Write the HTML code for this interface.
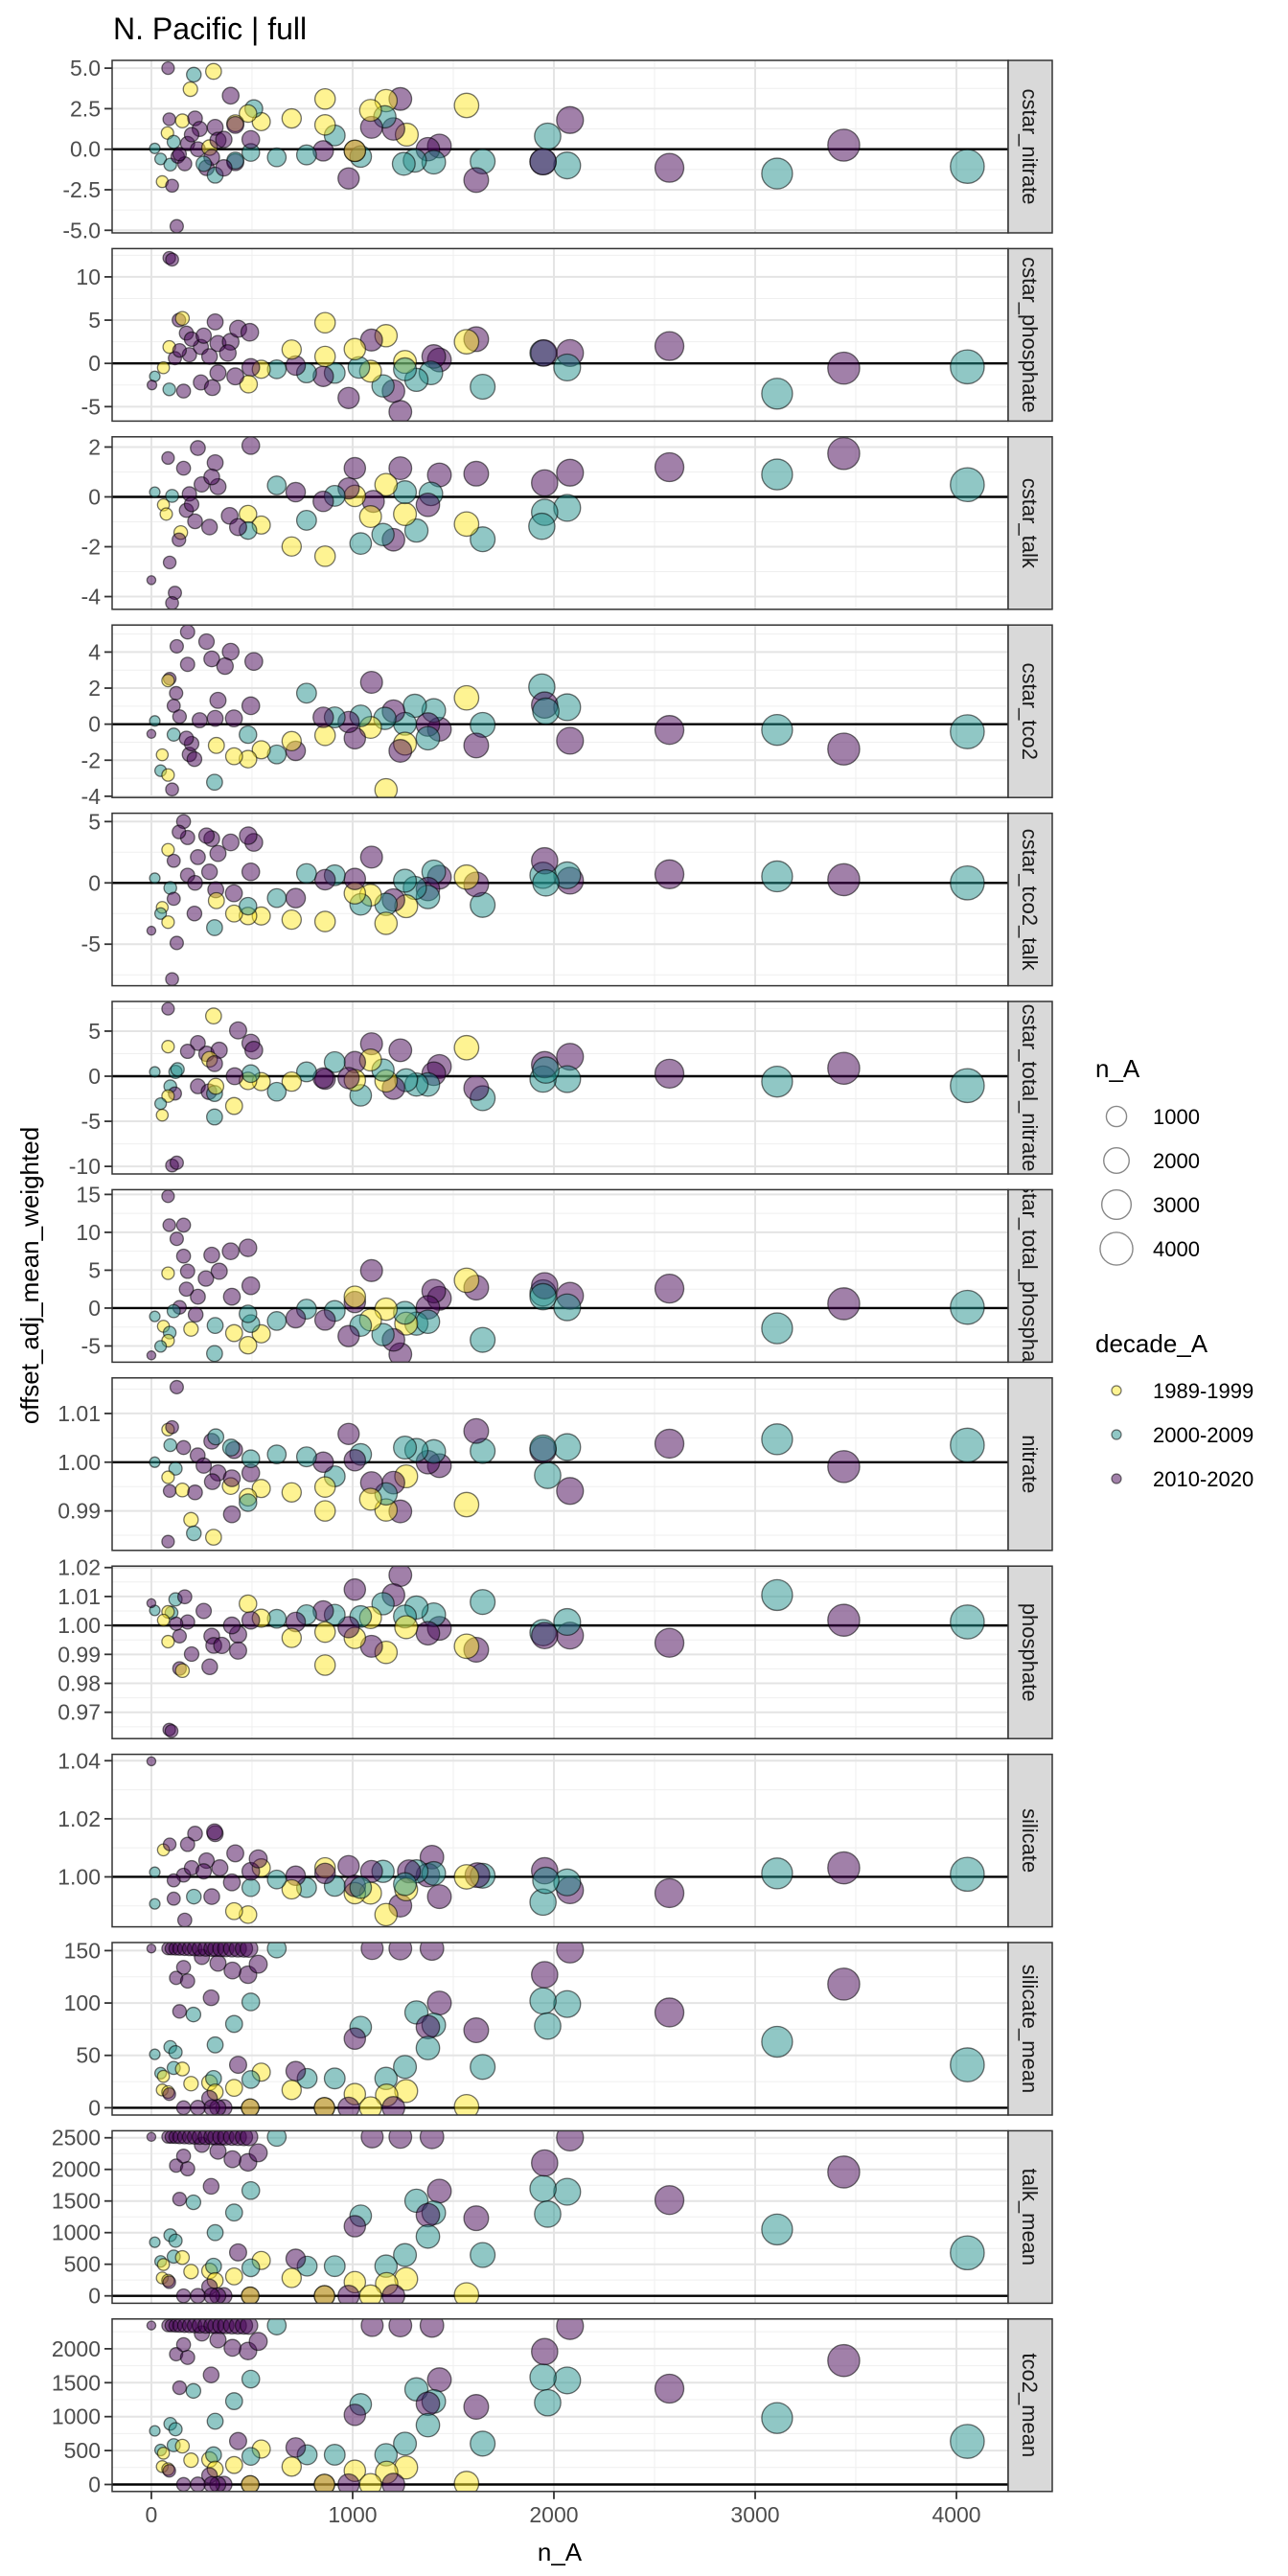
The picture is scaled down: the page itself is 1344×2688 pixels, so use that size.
<!DOCTYPE html>
<html><head><meta charset="utf-8"><title>N. Pacific | full</title>
<style>
html,body{margin:0;padding:0;background:#fff;}
svg{display:block;font-family:"Liberation Sans",Arial,sans-serif;}
</style></head>
<body>
<svg id="chart" xmlns="http://www.w3.org/2000/svg" width="1344" height="2688" viewBox="0 0 1344 2688">
<rect x="0" y="0" width="1344" height="2688" fill="#fff"/>
<text x="118" y="41" font-size="32" fill="#000">N. Pacific | full</text>
<text transform="translate(40,1331) rotate(-90)" text-anchor="middle" font-size="26" fill="#000">offset_adj_mean_weighted</text>
<text x="584" y="2672" text-anchor="middle" font-size="26" fill="#000">n_A</text>
<g id="panels"></g>
<g id="legend">
<text x="1143" y="1124" font-size="26" fill="#000">n_A</text>
<text x="1143" y="1411" font-size="26" fill="#000">decade_A</text>
</g>
</svg>
<script>
// ---- data: [n_A, offset, decade index(0=1989-1999,1=2000-2009,2=2010-2020)] ----
const xTicks = [0, 1000, 2000, 3000, 4000];
const xTickLabels = ["0", "1000", "2000", "3000", "4000"];
const decades = ["1989-1999", "2000-2009", "2010-2020"];
const sizeBreaks = [1000, 2000, 3000, 4000];

const cstarNitrate = [[4054,-1.06,1],[3440,0.25,2],[3109,-1.5,1],[2574,-1.15,2],[2080,1.8,2],[2066,-1.0,1],[1969,0.8,1],[1946,-0.77,1],[1946,-0.77,2],[1646,-0.75,1],[1614,-1.9,2],[1566,2.7,0],[1431,0.2,2],[1374,0,2],[1403,-0.8,1],[1309,-0.7,1],[1254,-0.9,1],[1237,3.1,2],[1166,3.0,0],[1269,0.9,0],[1203,1.25,2],[1160,2.0,1],[1094,1.35,2],[1089,2.4,0],[1040,-0.45,1],[1011,-0.1,2],[1011,-0.1,0],[980,-1.8,2],[911,0.85,1],[863,3.1,0],[863,1.5,0],[854,-0.1,2],[771,-0.35,1],[697,1.9,0],[623,-0.5,1],[494,-0.2,1],[494,0.6,2],[546,1.7,0],[509,2.5,1],[480,2.2,0],[417,1.6,0],[417,1.5,2],[394,3.3,2],[417,-0.8,2],[417,-0.7,1],[83,5.0,2],[211,4.6,1],[309,4.8,0],[194,3.7,0],[89,1.85,2],[154,1.75,0],[217,1.9,2],[240,1.25,2],[317,1.35,2],[80,1.0,0],[111,0.45,1],[180,0.35,2],[231,0,2],[289,0.1,0],[331,0.55,2],[17,0.05,1],[46,-0.6,1],[94,-0.95,1],[131,-0.45,2],[166,-0.9,2],[274,-1.15,2],[317,-1.6,1],[360,-1.15,2],[54,-2.0,0],[103,-2.25,2],[126,-4.75,2],[300,-0.5,2],[260,-0.9,1],[360,0.6,2],[200,0.9,2],[140,-0.3,2]];

const cstarPhosphate = [[4054,-0.4,1],[3440,-0.55,2],[3109,-3.5,1],[2574,2.0,2],[2080,1.2,2],[2066,-0.47,1],[1946,1.2,1],[1950,1.2,2],[1646,-2.7,1],[1614,2.8,2],[1566,2.5,0],[1431,0.4,2],[1403,0.8,2],[1389,-1.1,1],[1317,-1.9,1],[1260,0.17,0],[1260,-0.68,1],[1237,-5.6,2],[1203,-3.2,2],[1166,3.2,0],[1151,-2.6,1],[1094,2.7,2],[1089,-0.9,0],[1031,-0.47,1],[1011,1.65,0],[980,-4.0,2],[911,-1.1,1],[863,4.7,0],[863,0.8,0],[854,-1.5,2],[771,-1.1,1],[717,-0.25,2],[697,1.6,0],[623,-0.68,1],[546,-0.68,0],[494,-0.47,2],[483,-2.4,0],[89,12.2,2],[103,12.0,2],[137,5.0,2],[154,5.2,0],[317,4.8,2],[331,2.3,2],[394,2.5,2],[431,4.0,2],[489,3.6,2],[174,3.5,2],[189,1.0,2],[246,1.9,2],[289,0.8,2],[117,0.6,2],[89,1.9,0],[60,-0.5,0],[17,-1.5,1],[3,-2.5,2],[89,-3.0,1],[160,-3.2,2],[246,-2.2,2],[303,-2.8,2],[417,-1.5,2],[331,-1.1,2],[200,2.8,2],[260,3.2,2],[380,1.2,2],[140,1.5,2]];

const cstarTalk = [[4054,0.49,1],[3440,1.74,2],[3109,0.9,1],[2574,1.19,2],[2080,0.97,2],[2066,-0.44,1],[1954,0.56,2],[1954,-0.62,1],[1940,-1.18,1],[1646,-1.7,1],[1614,0.93,2],[1566,-1.09,0],[1431,0.88,2],[1389,0.12,1],[1374,-0.32,2],[1317,-1.35,1],[1260,-0.69,0],[1260,0.19,1],[1237,1.15,2],[1203,-1.72,2],[1166,0.49,0],[1151,-1.51,1],[1103,-0.18,2],[1089,-0.79,0],[1040,-1.87,1],[1011,1.15,2],[1011,0.04,0],[980,0.34,2],[911,0.04,1],[863,-2.38,0],[854,-0.18,2],[771,-0.94,1],[717,0.19,2],[697,-1.99,0],[623,0.46,1],[546,-1.13,0],[494,2.06,2],[480,-0.69,0],[480,-1.35,1],[231,1.96,2],[83,1.56,2],[317,1.37,2],[160,1.15,2],[331,0.41,2],[189,0.12,2],[17,0.19,1],[103,0.04,1],[60,-0.32,0],[74,-0.69,0],[174,-0.54,2],[217,-0.98,2],[289,-1.21,2],[146,-1.43,0],[137,-1.72,2],[91,-2.63,2],[0,-3.34,2],[117,-3.85,2],[103,-4.26,2],[389,-0.76,2],[431,-1.21,2],[250,0.5,2],[300,0.8,2],[200,-0.3,2]];

const cstarTco2 = [[4054,-0.42,1],[3440,-1.38,2],[3109,-0.32,1],[2574,-0.32,2],[2080,-0.92,2],[2066,0.94,1],[1940,2.06,1],[1954,1.06,2],[1960,0.72,1],[1646,-0.04,1],[1614,-1.18,2],[1566,1.46,0],[1431,-0.28,2],[1403,0.76,1],[1374,-0.02,2],[1374,-0.78,1],[1309,1.02,1],[1260,0.02,1],[1260,-1.08,0],[1237,-1.48,2],[1203,0.72,2],[1160,0.32,1],[1089,-0.18,0],[1094,2.32,2],[1166,-3.64,0],[1040,0.46,1],[1011,-0.78,2],[980,0.12,2],[911,0.38,1],[863,-0.62,0],[854,0.38,2],[717,-1.48,2],[697,-0.94,0],[623,-1.68,1],[771,1.72,1],[546,-1.42,0],[480,-1.94,0],[411,-1.78,0],[480,-0.58,1],[509,3.48,2],[494,1.02,2],[331,1.32,2],[317,0.32,2],[274,4.58,2],[300,3.62,2],[394,4.02,2],[366,3.22,2],[180,3.32,2],[126,4.32,2],[180,5.12,2],[91,2.52,2],[83,2.42,0],[123,1.72,2],[111,1.02,2],[17,0.18,1],[0,-0.54,2],[111,-0.58,1],[140,0.42,2],[54,-1.7,0],[189,-1.68,2],[214,-1.94,2],[46,-2.58,1],[83,-2.82,0],[103,-3.62,2],[314,-3.22,1],[240,0.22,2],[410,0.32,2],[323,-1.18,0],[200,-1.08,2],[174,-0.78,2]];

const cstarTco2Talk = [[4054,0,1],[3440,0.26,2],[3109,0.53,1],[2574,0.7,2],[2080,0.18,2],[2066,0.62,1],[1946,0.62,1],[1954,1.8,2],[1960,0,1],[1646,-1.8,1],[1614,-0.12,2],[1566,0.47,0],[1431,0.47,2],[1403,0.9,1],[1374,-0.5,2],[1374,-1.15,1],[1309,-0.41,1],[1260,0.18,1],[1266,-1.9,0],[1203,-1.4,2],[1166,-1.75,1],[1094,2.1,2],[1089,-1.0,0],[1040,-1.75,1],[1011,-0.85,0],[1011,0.32,2],[1166,-3.3,0],[911,0.62,1],[863,0.26,2],[863,-3.15,0],[771,0.76,1],[717,-1.24,2],[697,-3.0,0],[623,-1.24,1],[546,-2.7,0],[480,-2.7,0],[411,-2.5,0],[480,-1.9,1],[494,0.9,2],[509,3.3,2],[481,3.85,2],[300,3.6,2],[274,3.85,2],[331,2.4,2],[394,3.3,2],[180,3.7,2],[160,5.0,2],[137,4.15,2],[83,2.7,0],[111,1.8,2],[231,2.1,2],[289,0.9,2],[180,0.62,2],[217,0,2],[17,0.38,1],[94,-0.41,1],[111,-1.3,2],[54,-2.0,0],[46,-2.5,1],[214,-2.5,2],[83,-3.2,0],[314,-3.65,1],[0,-3.9,2],[126,-4.9,2],[103,-7.85,2],[320,-0.56,2],[410,-0.85,2],[323,-1.45,0]];

const cstarTotalNitrate = [[4054,-1.04,1],[3440,0.88,2],[3109,-0.6,1],[2574,0.28,2],[2080,2.16,2],[2066,-0.32,1],[1946,-0.32,1],[1954,1.28,2],[1960,0.68,1],[1646,-2.44,1],[1614,-1.32,2],[1566,3.16,0],[1431,1.08,2],[1403,0.28,2],[1374,-0.92,1],[1317,-0.92,1],[1266,-0.44,1],[1237,2.88,2],[1203,-1.32,2],[1166,-0.52,0],[1151,0.68,1],[1094,3.6,2],[1089,1.8,0],[1040,-2.12,1],[1011,1.56,2],[1011,-0.44,0],[980,-0.2,2],[911,1.56,1],[863,-0.32,2],[854,-0.2,2],[771,0.48,1],[697,-0.6,0],[623,-1.72,1],[546,-0.6,0],[480,-0.52,0],[494,0.28,1],[494,3.68,2],[509,2.88,2],[431,5.08,2],[274,2.48,2],[337,2.88,2],[309,6.68,0],[83,7.48,2],[83,3.28,0],[231,3.68,2],[180,2.76,2],[289,1.88,0],[314,1.4,2],[120,0.48,1],[17,0.48,1],[414,0,2],[411,-3.3,0],[231,-1.12,2],[286,-1.72,2],[314,-1.92,1],[320,-1.12,0],[94,-1.12,1],[117,-1.92,2],[83,-2.2,0],[46,-3.04,1],[54,-4.32,0],[314,-4.52,1],[103,-9.9,2],[126,-9.6,2],[130,0.76,1]];

const cstarTotalPhosphate = [[4054,0.1,1],[3440,0.57,2],[3109,-2.67,1],[2574,2.57,2],[2080,1.62,2],[2066,0.1,1],[1946,2.0,1],[1954,2.95,2],[1946,1.5,1],[1646,-4.2,1],[1614,2.7,2],[1566,3.67,0],[1431,1.29,2],[1403,2.24,2],[1374,0.1,2],[1317,-2.05,1],[1374,-1.8,1],[1266,-2.05,0],[1260,-0.62,1],[1237,-6.1,2],[1203,-4.2,2],[1166,-0.14,0],[1151,-3.5,1],[1094,4.95,2],[1089,-1.57,0],[1040,-2.3,1],[1011,0.8,2],[1011,1.5,0],[980,-3.7,2],[911,-0.38,1],[863,-1.57,2],[771,-0.14,1],[717,-1.33,2],[623,-1.7,1],[546,-3.4,0],[480,-4.9,0],[411,-3.3,0],[494,-2.05,1],[480,-0.76,1],[480,7.95,2],[394,7.5,2],[300,7.0,2],[494,2.95,2],[337,4.86,2],[180,4.86,2],[160,6.86,2],[89,10.95,2],[160,10.95,2],[126,9.14,2],[83,14.76,2],[271,3.9,2],[400,1.5,2],[231,1.5,2],[174,2.5,2],[83,4.6,0],[140,0.1,2],[17,-1.1,1],[111,-0.4,1],[60,-2.4,0],[197,-2.76,0],[317,-2.3,1],[91,-3.24,1],[83,-4.3,0],[46,-5.05,1],[0,-6.24,2],[314,-6.0,1],[220,-0.86,2]];

const nitrateRatio = [[4054,1.0035,1],[3440,0.9991,2],[3109,1.0047,1],[2574,1.0038,2],[2080,0.9941,2],[2066,1.0031,1],[1969,0.9973,1],[1946,1.0025,2],[1946,1.0029,1],[1646,1.0023,1],[1614,1.0064,2],[1566,0.9913,0],[1431,0.9993,2],[1374,1.0,2],[1403,1.0022,1],[1317,1.0025,1],[1260,1.003,1],[1266,0.9971,0],[1237,0.9899,2],[1203,0.9958,2],[1166,0.9902,0],[1166,0.9935,1],[1094,0.9958,2],[1089,0.9924,0],[1040,1.0016,1],[1011,1.0004,2],[980,1.0058,2],[911,0.9971,1],[863,0.9949,0],[863,0.99,0],[854,1.0,2],[771,1.0011,1],[697,0.9938,0],[623,1.0016,1],[546,0.9946,0],[480,0.9928,0],[480,0.9917,1],[494,0.9978,2],[494,1.0007,1],[411,1.0025,2],[396,1.003,1],[400,0.9893,2],[394,0.9951,0],[331,0.9978,2],[300,1.0043,2],[320,1.0052,1],[230,1.0014,2],[160,1.003,2],[83,1.0067,0],[103,1.0072,2],[126,1.0154,2],[94,1.0035,1],[17,1.0,1],[120,0.9987,1],[83,0.9969,0],[91,0.9941,2],[154,0.9943,0],[217,0.9938,2],[303,0.996,2],[400,0.9967,2],[197,0.9882,0],[211,0.9854,1],[309,0.9846,0],[83,0.9837,2],[260,0.9993,2]];

const phosphateRatio = [[4054,1.0012,1],[3440,1.0018,2],[3109,1.0105,1],[2574,0.994,2],[2080,0.9965,2],[2066,1.0012,1],[1946,0.9975,1],[1954,0.9965,2],[1646,1.0081,1],[1614,0.9916,2],[1566,0.9928,0],[1431,0.999,2],[1403,1.0037,1],[1374,0.9973,2],[1317,1.0062,1],[1260,1.0031,1],[1266,0.9994,0],[1237,1.0174,2],[1203,1.0105,2],[1151,1.0075,1],[1166,0.9907,0],[1094,0.9928,2],[1089,1.0027,0],[1011,1.0124,2],[1011,0.9957,0],[1040,1.0031,1],[980,0.9994,2],[911,1.0037,1],[863,0.9863,0],[863,0.9977,0],[854,1.005,2],[771,1.0037,1],[717,1.0012,2],[697,0.9957,0],[623,1.0023,1],[546,1.0025,0],[494,1.0018,2],[480,1.0075,0],[431,0.9969,2],[431,0.9913,2],[300,0.9963,2],[310,0.9931,2],[290,0.9857,2],[200,0.9901,2],[140,0.9851,2],[154,0.9844,0],[260,1.005,2],[180,1.0012,2],[140,0.9963,2],[120,1.009,1],[166,1.0099,2],[100,1.0044,1],[83,1.0047,0],[60,1.0018,0],[17,1.0052,1],[0,1.0077,2],[83,0.9944,0],[123,1.0006,2],[89,0.964,2],[100,0.9635,2],[400,1.0,2],[350,0.9931,2]];

const silicateRatio = [[4054,1.0009,1],[3440,1.0031,2],[3109,1.0012,1],[2574,0.9944,2],[2080,0.9954,2],[2066,0.9981,1],[1946,0.9913,1],[1954,1.0021,2],[1960,0.9988,1],[1646,1.0004,1],[1620,1.0006,2],[1566,1.0,0],[1431,0.9932,2],[1394,1.0068,2],[1374,1.0006,2],[1403,1.0012,1],[1317,1.0019,1],[1280,1.0019,2],[1237,0.9901,2],[1266,0.9957,0],[1260,0.9975,1],[1166,0.987,0],[1151,1.0019,1],[1094,1.0019,2],[1089,0.9944,0],[1011,0.9944,0],[1011,0.9969,2],[1040,0.9963,1],[980,1.0037,2],[911,0.9969,1],[863,1.0031,0],[863,1.0012,2],[771,0.9963,1],[717,1.0004,2],[697,0.9957,0],[623,0.9991,1],[546,1.0031,0],[480,0.987,0],[411,0.9882,0],[494,0.9963,1],[494,1.0019,2],[531,1.0062,2],[417,1.0081,2],[317,1.0149,2],[314,1.0155,2],[217,1.0149,2],[180,1.0112,2],[60,1.0093,0],[91,1.0112,2],[274,1.0056,2],[160,1.0006,2],[200,1.0031,2],[260,1.0019,2],[340,1.0031,2],[17,1.0016,1],[111,0.9988,2],[211,0.9932,1],[111,0.9925,2],[17,0.9907,1],[166,0.9851,2],[0,1.0398,2],[300,0.9932,2],[400,0.9981,2]];

// shared n_A / decade for the *_mean panels
const meanN = [4054,3440,3109,2574,2080,2066,1946,1954,1969,1646,1614,1566,1431,1317,1403,1374,1374,1394,1260,1266,1237,1166,1169,1203,1097,1040,1011,1011,1089,980,911,860,860,774,717,697,623,546,494,494,480,531,431,411,411,491,491,403,331,317,297,289,309,317,289,360,330,300,160,231,209,140,123,180,160,251,94,120,17,111,154,46,60,197,54,83,89,0,83,100,120,140,165,190,215,240,270,300,320,345,370,400,430,460,485];
const meanDecade = [1,2,1,2,2,1,1,2,1,1,2,0,2,1,1,2,1,2,1,0,2,1,0,2,2,1,2,0,0,2,1,2,0,1,2,0,1,0,1,1,2,2,2,1,0,2,0,2,2,1,2,0,1,0,2,2,2,2,2,2,1,2,2,2,2,2,1,1,1,1,0,1,0,0,0,0,2,2,2,2,2,2,2,2,2,2,2,2,2,2,2,2,2,2,2];
const tco2Mean = [635,1826,979,1412,2334,1534,1581,1958,1205,602,1144,14,1544,1402,1224,1190,875,2343,602,250,2343,438,179,0,2343,1181,1026,202,0,0,438,0,0,438,546,264,2343,522,414,1553,1967,2108,640,1228,287,0,0,2014,2132,932,1614,367,438,226,132,0,0,0,0,0,1379,1426,1920,1873,2061,2226,894,814,790,579,565,508,461,358,264,226,202,2343,2343,2343,2343,2343,2343,2343,2343,2343,2343,2343,2343,2343,2343,2343,2343,2343,2343];
const talkMean = [681,1959,1050,1515,2504,1646,1696,2101,1293,646,1228,15,1657,1504,1313,1277,939,2514,646,268,2514,470,192,0,2514,1267,1101,217,0,0,470,0,0,470,586,283,2514,560,444,1666,2111,2262,687,1318,308,0,0,2161,2288,1000,1732,394,470,242,142,0,0,0,0,0,1480,1530,2060,2010,2211,2389,959,873,848,621,606,545,495,384,283,242,217,2514,2514,2514,2514,2514,2514,2514,2514,2514,2514,2514,2514,2514,2514,2514,2514,2514,2514];
const silicateMean = [41,118,63,91,151,99,102,127,78,39,74,1,100,91,79,77,57,152,39,16,152,28,12,0,152,77,66,13,0,0,28,0,0,28,35,17,152,34,27,101,127,137,41,80,19,0,0,131,138,60,105,24,28,15,9,0,0,0,0,0,89,92,124,121,134,144,58,53,51,38,37,33,30,23,17,15,13,152,152,152,152,152,152,152,152,152,152,152,152,152,152,152,152,152,152];

// facet definitions (axis limits & breaks)
const facetNames = ["cstar_nitrate","cstar_phosphate","cstar_talk","cstar_tco2","cstar_tco2_talk","cstar_total_nitrate","cstar_total_phosphate","nitrate","phosphate","silicate","silicate_mean","talk_mean","tco2_mean"];
const facetLimits = [[-5.16,5.48],[-6.67,13.27],[-4.51,2.41],[-4.07,5.5],[-8.39,5.68],[-10.84,8.29],[-7.14,15.63],[0.9819,1.0173],[0.9609,1.0205],[0.9828,1.0422],[-6.95,157.7],[-117,2611],[-103,2439]];
const facetTicks = [[-5,-2.5,0,2.5,5],[-5,0,5,10],[-4,-2,0,2],[-4,-2,0,2,4],[-5,0,5],[-10,-5,0,5],[-5,0,5,10,15],[0.99,1,1.01],[0.97,0.98,0.99,1,1.01,1.02],[1,1.02,1.04],[0,50,100,150],[0,500,1000,1500,2000,2500],[0,500,1000,1500,2000]];
const facetTickLabels = [["-5.0","-2.5","0.0","2.5","5.0"],["-5","0","5","10"],["-4","-2","0","2"],["-4","-2","0","2","4"],["-5","0","5"],["-10","-5","0","5"],["-5","0","5","10","15"],["0.99","1.00","1.01"],["0.97","0.98","0.99","1.00","1.01","1.02"],["1.00","1.02","1.04"],["0","50","100","150"],["0","500","1000","1500","2000","2500"],["0","500","1000","1500","2000"]];
const facetRef = [0,0,0,0,0,0,0,1,1,1,0,0,0];

function zipMean(vals){ return meanN.map((n,i)=>[n, vals[i], meanDecade[i]]); }
const facetData = [cstarNitrate,cstarPhosphate,cstarTalk,cstarTco2,cstarTco2Talk,cstarTotalNitrate,cstarTotalPhosphate,nitrateRatio,phosphateRatio,silicateRatio,zipMean(silicateMean),zipMean(talkMean),zipMean(tco2Mean)];

// ---- layout ----
const NS = "http://www.w3.org/2000/svg";
const PL = 117, PR = 1052, PT = 63, PH = 180, PITCH = 196.4, SW = 46;
const X_MIN = -195, X_MAX = 4257;
const colors = ["#FDE725", "#21908C", "#440154"];
function xs(n){ return PL + (n - X_MIN) / (X_MAX - X_MIN) * (PR - PL); }
function rad(n){ return 4.6 + 0.205 * Math.sqrt(Math.max(n,0)); }
function mk(tag, attrs, parent){ const e = document.createElementNS(NS, tag); for (const k in attrs) e.setAttribute(k, attrs[k]); parent.appendChild(e); return e; }

const root = document.getElementById("panels");
const defs = mk("defs", {}, root);

facetNames.forEach((name, i) => {
  const top = PT + PITCH * i;
  const lo = facetLimits[i][0], hi = facetLimits[i][1];
  const ys = v => top + (hi - v) / (hi - lo) * PH;
  const g = mk("g", {}, root);
  
  
  const bg = mk("rect", {x:PL, y:top, width:PR-PL, height:PH, fill:"#fff"}, g);
  
  
  const ticks = facetTicks[i];
  const step = ticks.length > 1 ? ticks[1] - ticks[0] : 1;
  for (let v = ticks[0] - step / 2; v <= hi; v += step) {
    if (v < lo) continue;
    const ln = mk("line", {x1:PL, x2:PR, y1:ys(v), y2:ys(v), stroke:"#efefef", "stroke-width":1}, g);
    
    
  }
  [-500,500,1500,2500,3500].forEach(n => {
    if (xs(n) < PL) return;
    const ln = mk("line", {x1:xs(n), x2:xs(n), y1:top, y2:top+PH, stroke:"#efefef", "stroke-width":1}, g);
    
    
  });
  ticks.forEach((v, k) => {
    const ln = mk("line", {x1:PL, x2:PR, y1:ys(v), y2:ys(v), stroke:"#e4e4e4", "stroke-width":2}, g);
    
    
    const tk = mk("line", {x1:PL-8, x2:PL, y1:ys(v), y2:ys(v), stroke:"#333", "stroke-width":1.8}, g);
    
    
    const t = mk("text", {x:PL-12, y:ys(v)+8, "text-anchor":"end", "font-size":23, fill:"#4d4d4d"}, g);
    t.textContent = facetTickLabels[i][k];
    
    
  });
  xTicks.forEach(n => {
    const ln = mk("line", {x1:xs(n), x2:xs(n), y1:top, y2:top+PH, stroke:"#e4e4e4", "stroke-width":2}, g);
    
    
  });
  const ref = mk("line", {x1:PL, x2:PR, y1:ys(facetRef[i]), y2:ys(facetRef[i]), stroke:"#000", "stroke-width":2.4}, g);
  
  
  const cp = mk("clipPath", {id:"clip"+i}, defs);
  mk("rect", {x:PL, y:top, width:PR-PL, height:PH}, cp);
  const pg = mk("g", {"clip-path":"url(#clip"+i+")"}, g);
  
  
  facetData[i].forEach(p => {
    const c = mk("circle", {cx:xs(p[0]), cy:ys(p[1]), r:rad(p[0]), fill:colors[p[2]], "fill-opacity":0.5, stroke:"#000", "stroke-opacity":0.55, "stroke-width":1.3}, pg);
    
    
  });
  const bd = mk("rect", {x:PL, y:top, width:PR-PL, height:PH, fill:"none", stroke:"#333", "stroke-width":1.5}, g);
  
  
  const sc = mk("clipPath", {id:"sclip"+i}, defs);
  mk("rect", {x:PR, y:top, width:SW, height:PH}, sc);
  const st = mk("rect", {x:PR, y:top, width:SW, height:PH, fill:"#d9d9d9", stroke:"#333", "stroke-width":1.5}, g);
  
  
  const sg = mk("g", {"clip-path":"url(#sclip"+i+")"}, g);
  const stt = mk("text", {transform:"translate(" + (PR + SW/2 - 8) + "," + (top + PH/2) + ") rotate(90)", "text-anchor":"middle", "font-size":22, fill:"#1a1a1a"}, sg);
  stt.textContent = name;
  
  
});

const axg = mk("g", {}, root);


const bottom = PT + PITCH * (facetNames.length - 1) + PH;
xTicks.forEach((n, k) => {
  const tk = mk("line", {x1:xs(n), x2:xs(n), y1:bottom, y2:bottom+8, stroke:"#333", "stroke-width":1.8}, axg);
  
  
  const t = mk("text", {x:xs(n), y:bottom+32, "text-anchor":"middle", "font-size":23, fill:"#4d4d4d"}, axg);
  t.textContent = xTickLabels[k];
  
  
});

const lg = document.getElementById("legend");
sizeBreaks.forEach((n, k) => {
  const cy = 1165 + 46 * k;
  const c = mk("circle", {cx:1165, cy:cy, r:rad(n)-0.5, fill:"none", stroke:"#888", "stroke-width":1.4}, lg);
  
  
  const t = mk("text", {x:1203, y:cy+8, "font-size":22, fill:"#000"}, lg);
  t.textContent = String(n);
  
  
});
decades.forEach((d, k) => {
  const cy = 1451 + 46 * k;
  const c = mk("circle", {cx:1165, cy:cy, r:5, fill:colors[k], "fill-opacity":0.5, stroke:"#000", "stroke-opacity":0.55, "stroke-width":1.2}, lg);
  
  
  const t = mk("text", {x:1203, y:cy+8, "font-size":22, fill:"#000"}, lg);
  t.textContent = d;
  
  
});
</script>
</body></html>
